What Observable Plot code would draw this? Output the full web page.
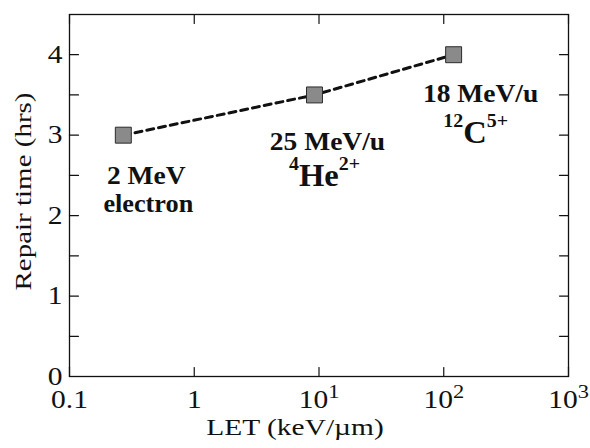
<!DOCTYPE html>
<html>
<head>
<meta charset="utf-8">
<script src="https://cdn.jsdelivr.net/npm/d3@7"></script>
<script src="https://cdn.jsdelivr.net/npm/@observablehq/plot@0.6"></script>
<style>
  html, body { margin: 0; padding: 0; background: #fff; }
  #chart svg { display: block; }
</style>
</head>
<body>
<div id="chart"></div>
<script>
// Repair time of radiation damage versus linear energy transfer (LET)
const letValues = [0.27, 9.2, 120];          // keV/µm
const repairHours = [3.0, 3.5, 4.0];         // hrs
const beamEnergies = ["2 MeV", "25 MeV/u", "18 MeV/u"];
const particleMass = ["", "4", "12"];
const particleSymbol = ["electron", "He", "C"];
const particleCharge = ["", "2+", "5+"];

const xDomain = [0.1, 1000];
const yDomain = [0, 4.5];
const xTicks = [0.1, 1, 10, 100, 1000];
const xTickLabels = ["0.1", "1", "10^1", "10^2", "10^3"];
const yTicks = [0, 1, 2, 3, 4];
const yTickLabels = ["0", "1", "2", "3", "4"];
const yMinorTicks = [0.5, 1.5, 2.5, 3.5];
const xTitle = "LET (keV/µm)";
const yTitle = "Repair time (hrs)";

const serif = "Liberation Serif";

const points = letValues.map((v, i) => ({
  let: v, hours: repairHours[i], beam: beamEnergies[i],
  mass: particleMass[i], symbol: particleSymbol[i], charge: particleCharge[i]
}));

// inward tick: a plain stroke along the vector direction
const tickShape = { draw(ctx, l) { ctx.moveTo(0, 0); ctx.lineTo(0, -l); } };
const ink = "#111";
const tickOpts = { length: 9, anchor: "start", shape: tickShape, stroke: ink, strokeWidth: 1.2 };
const yAll = yTicks.concat(yMinorTicks);

// label placement relative to each point, in pixels
const labelLayout = [
  { beam: [23, 49], particle: [25, 77] },
  { beam: [13, 55], particle: [10, 91] },
  { beam: [27, 47], particle: [22, 88] }
];

const labelMarks = labelLayout.flatMap((o, i) => [
  Plot.text([points[i]], {
    x: "let", y: "hours", text: "beam", dx: o.beam[0], dy: o.beam[1],
    lineAnchor: "bottom", textAnchor: "middle", fontSize: 25, fontWeight: "bold",
    fill: ink, className: "beam-label"
  }),
  Plot.text([points[i]], {
    x: "let", y: "hours", text: "symbol", dx: o.particle[0], dy: o.particle[1],
    lineAnchor: "bottom", textAnchor: "middle", fontSize: points[i].mass ? 31 : 25,
    fontWeight: "bold", fill: ink, className: "particle-label"
  })
]);

const chart = Plot.plot({
  width: 590,
  height: 448,
  marginLeft: 69,
  marginRight: 22,
  marginTop: 14,
  marginBottom: 72,
  style: { background: "#fff", color: ink },
  x: { type: "log", domain: xDomain },
  y: { domain: yDomain },
  marks: [
    Plot.frame({ stroke: ink, strokeWidth: 1.3 }),
    // inward ticks on all four sides
    Plot.vector(xTicks, { x: d => d, y: yDomain[0], rotate: 0, ...tickOpts }),
    Plot.vector(xTicks, { x: d => d, y: yDomain[1], rotate: 180, ...tickOpts }),
    Plot.vector(yAll, { x: xDomain[0], y: d => d, rotate: 90, ...tickOpts }),
    Plot.vector(yAll, { x: xDomain[1], y: d => d, rotate: -90, ...tickOpts }),
    Plot.axisX(xTicks, {
      tickSize: 0, tickPadding: 14, fontSize: 25, label: null, fill: ink,
      tickFormat: d => xTickLabels[xTicks.indexOf(d)]
    }),
    Plot.axisY(yTicks, {
      tickSize: 0, tickPadding: 7, fontSize: 25, label: null, fill: ink,
      tickFormat: d => yTickLabels[yTicks.indexOf(d)]
    }),
    Plot.text([xTitle], {
      text: d => d, frameAnchor: "bottom", textAnchor: "middle", dx: -24, dy: 58,
      lineAnchor: "bottom", fontSize: 23, fill: ink, className: "x-title"
    }),
    Plot.text([yTitle], {
      text: d => d, frameAnchor: "left", textAnchor: "middle", dx: -46, dy: -4, rotate: -90,
      lineAnchor: "middle", fontSize: 23, fill: ink, className: "y-title"
    }),
    Plot.line(points, {
      x: "let", y: "hours", stroke: ink, strokeWidth: 3, strokeDasharray: "7,5"
    }),
    Plot.dot(points, {
      x: "let", y: "hours", symbol: "square", r: 9,
      fill: "#8a8a8a", stroke: "#2b2b2b", strokeWidth: 1
    }),
    ...labelMarks
  ]
});

document.getElementById("chart").appendChild(chart);

const svg = d3.select(chart);

// every label in the serif face
svg.attr("font-family", serif).style("font-family", serif);
svg.selectAll("g").attr("font-family", null);
svg.selectAll("text").attr("font-family", serif).style("font-family", serif);

// powers of ten: "10^n" -> 10 with a raised exponent
svg.selectAll('g[aria-label="x-axis tick label"] text').each(function () {
  const t = this.textContent;
  if (!t.includes("^")) return;
  const [base, exp] = t.split("^");
  const s = d3.select(this).text(null);
  s.append("tspan").text(base);
  s.append("tspan").attr("font-size", 19).attr("dy", -10).text(exp);
});

// nuclide labels: mass number and charge as superscripts around the symbol
svg.selectAll("text.particle-label, .particle-label text").each(function () {
  const i = particleSymbol.indexOf(this.textContent);
  if (i < 0 || !particleMass[i]) return;
  const s = d3.select(this).text(null);
  s.append("tspan").attr("font-size", 19).attr("dy", -16).text(particleMass[i]);
  s.append("tspan").attr("dy", 16).text(particleSymbol[i]);
  s.append("tspan").attr("font-size", 19).attr("dy", -16).text(particleCharge[i]);
});

// the serif face used here runs wide along the line of text
function stretch(selector, k) {
  svg.selectAll(selector).each(function () {
    const tf = this.getAttribute("transform") || "";
    this.setAttribute("transform", `${tf} scale(${k},1)`.trim());
  });
}
stretch('g[aria-label="x-axis tick label"] text', 1.18);
stretch('g[aria-label="y-axis tick label"] text', 1.18);
stretch(".x-title text, text.x-title", 1.28);
stretch(".y-title text, text.y-title", 1.26);
stretch(".beam-label text, text.beam-label", 1.1);
stretch(".particle-label text, text.particle-label", 1.05);
</script>
</body>
</html>
